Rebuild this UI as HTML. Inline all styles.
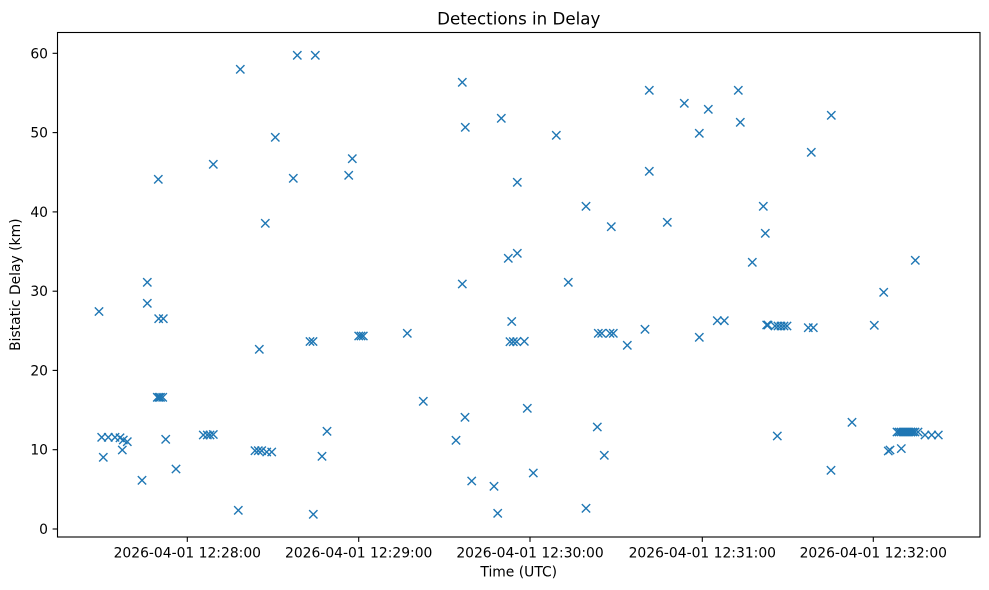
<!DOCTYPE html>
<html><head><meta charset="utf-8"><style>
html,body{margin:0;padding:0;background:#fff;}
svg{display:block;}
text{font-family:"DejaVu Sans","Liberation Sans",sans-serif;fill:#000;}
</style></head><body>
<svg width="989" height="590" viewBox="0 0 989 590" xmlns="http://www.w3.org/2000/svg" xmlns:xlink="http://www.w3.org/1999/xlink">
<defs><path id="m" d="M-4.17 -4.17L4.17 4.17M-4.17 4.17L4.17 -4.17" stroke="#1f77b4" stroke-width="1.39" fill="none"/></defs>
<rect width="989" height="590" fill="#fff"/>
<text x="518.75" y="24.3" font-size="16.67" text-anchor="middle">Detections in Delay</text>
<g fill="#1f77b4">
<use href="#m" x="99" y="311.5"/>
<use href="#m" x="101.7" y="437.3"/><use href="#m" x="108.3" y="437.3"/><use href="#m" x="115" y="437.3"/><use href="#m" x="120" y="437.8"/>
<use href="#m" x="123.3" y="440"/><use href="#m" x="127.3" y="441.7"/><use href="#m" x="122.3" y="450"/><use href="#m" x="103.3" y="457.3"/>
<use href="#m" x="142" y="480.3"/><use href="#m" x="147.3" y="282.3"/><use href="#m" x="147.3" y="303.3"/><use href="#m" x="158.3" y="179.3"/>
<use href="#m" x="158.7" y="318.7"/><use href="#m" x="163.3" y="318.7"/>
<use href="#m" x="157.3" y="397.3"/><use href="#m" x="159" y="397.3"/><use href="#m" x="160.5" y="397.3"/><use href="#m" x="162.7" y="397.3"/>
<use href="#m" x="165.7" y="439.3"/><use href="#m" x="176" y="469"/>
<use href="#m" x="203.3" y="435"/><use href="#m" x="207.3" y="435"/><use href="#m" x="210" y="435"/><use href="#m" x="213.3" y="434.5"/>
<use href="#m" x="213.3" y="164.3"/><use href="#m" x="238.3" y="510.3"/><use href="#m" x="240.3" y="69.3"/>
<use href="#m" x="255" y="450.7"/><use href="#m" x="258.3" y="450.7"/><use href="#m" x="261.7" y="450.7"/><use href="#m" x="266.7" y="452"/><use href="#m" x="271.7" y="452"/>
<use href="#m" x="259.3" y="349.3"/><use href="#m" x="265.3" y="223.3"/><use href="#m" x="275.3" y="137.3"/><use href="#m" x="293.3" y="178.3"/>
<use href="#m" x="297.3" y="55.3"/><use href="#m" x="310" y="341.5"/><use href="#m" x="313" y="341.5"/><use href="#m" x="313.3" y="514.3"/>
<use href="#m" x="315.3" y="55.3"/><use href="#m" x="322" y="456.3"/><use href="#m" x="327" y="431.3"/><use href="#m" x="348.7" y="175.3"/>
<use href="#m" x="352.3" y="158.7"/><use href="#m" x="358.7" y="336"/><use href="#m" x="361" y="336"/><use href="#m" x="363.3" y="336"/>
<use href="#m" x="407.3" y="333.3"/><use href="#m" x="423.3" y="401.3"/><use href="#m" x="456" y="440.3"/><use href="#m" x="462.3" y="82.3"/>
<use href="#m" x="462.3" y="284"/><use href="#m" x="465.3" y="127.3"/><use href="#m" x="465" y="417.3"/><use href="#m" x="471.7" y="481"/>
<use href="#m" x="494" y="486.3"/><use href="#m" x="497.7" y="513.3"/><use href="#m" x="501.3" y="118.3"/><use href="#m" x="508.3" y="258.3"/>
<use href="#m" x="511.7" y="321.5"/><use href="#m" x="510" y="341.7"/><use href="#m" x="513.3" y="341.7"/><use href="#m" x="516.7" y="341.7"/><use href="#m" x="524.3" y="341.3"/>
<use href="#m" x="517.3" y="253.3"/><use href="#m" x="517.3" y="182.3"/><use href="#m" x="527.3" y="408.3"/><use href="#m" x="533.3" y="473"/>
<use href="#m" x="556.3" y="135.3"/><use href="#m" x="568.3" y="282.3"/><use href="#m" x="586" y="206.3"/><use href="#m" x="586" y="508.3"/>
<use href="#m" x="597.3" y="427"/><use href="#m" x="598.3" y="333.3"/><use href="#m" x="601.7" y="333.3"/><use href="#m" x="610" y="333.3"/><use href="#m" x="613.3" y="333.3"/>
<use href="#m" x="604.3" y="455.3"/><use href="#m" x="611.3" y="226.7"/><use href="#m" x="627.3" y="345.3"/><use href="#m" x="645" y="329.3"/>
<use href="#m" x="649.3" y="90.3"/><use href="#m" x="649.3" y="171.3"/><use href="#m" x="667.3" y="222.3"/><use href="#m" x="684.3" y="103.3"/>
<use href="#m" x="699.3" y="133.3"/><use href="#m" x="699.3" y="337.3"/><use href="#m" x="708.3" y="109.3"/><use href="#m" x="717.3" y="320.7"/><use href="#m" x="724.3" y="320.7"/>
<use href="#m" x="738.3" y="90.3"/><use href="#m" x="740.3" y="122.3"/><use href="#m" x="752.3" y="262.3"/><use href="#m" x="763.3" y="206.3"/><use href="#m" x="765.3" y="233.3"/>
<use href="#m" x="766.7" y="325"/><use href="#m" x="768" y="325"/>
<use href="#m" x="775" y="326"/><use href="#m" x="778" y="326"/><use href="#m" x="781" y="326"/><use href="#m" x="784" y="326"/><use href="#m" x="787" y="326"/>
<use href="#m" x="777.3" y="436"/><use href="#m" x="808.3" y="327.7"/><use href="#m" x="813.3" y="327.7"/><use href="#m" x="811.3" y="152.3"/>
<use href="#m" x="831" y="470.3"/><use href="#m" x="831.3" y="115.3"/><use href="#m" x="852" y="422.3"/><use href="#m" x="874.3" y="325.3"/>
<use href="#m" x="883.7" y="292.3"/><use href="#m" x="888.3" y="451"/><use href="#m" x="890" y="450"/><use href="#m" x="901.3" y="448.6"/>
<use href="#m" x="897" y="432"/><use href="#m" x="899" y="432"/><use href="#m" x="901" y="432"/><use href="#m" x="903" y="432"/><use href="#m" x="905" y="432"/>
<use href="#m" x="907" y="432"/><use href="#m" x="909" y="432"/><use href="#m" x="911" y="432"/><use href="#m" x="913" y="432"/><use href="#m" x="915" y="432"/><use href="#m" x="918" y="432"/>
<use href="#m" x="925" y="435"/><use href="#m" x="931.7" y="435"/><use href="#m" x="938.3" y="435"/>
<use href="#m" x="915.3" y="260.3"/>
</g>
<rect x="57.5" y="32.5" width="922.5" height="504.5" fill="none" stroke="#000" stroke-width="1.1"/>
<g stroke="#000" stroke-width="1.1">
<line x1="52.6" y1="529" x2="57.5" y2="529"/>
<line x1="52.6" y1="449.7" x2="57.5" y2="449.7"/>
<line x1="52.6" y1="370.4" x2="57.5" y2="370.4"/>
<line x1="52.6" y1="291.2" x2="57.5" y2="291.2"/>
<line x1="52.6" y1="211.9" x2="57.5" y2="211.9"/>
<line x1="52.6" y1="132.6" x2="57.5" y2="132.6"/>
<line x1="52.6" y1="53.3" x2="57.5" y2="53.3"/>
<line x1="187.3" y1="537" x2="187.3" y2="541.9"/>
<line x1="358.7" y1="537" x2="358.7" y2="541.9"/>
<line x1="530" y1="537" x2="530" y2="541.9"/>
<line x1="702.3" y1="537" x2="702.3" y2="541.9"/>
<line x1="873.3" y1="537" x2="873.3" y2="541.9"/>
</g>
<g font-size="13.89" text-anchor="end">
<text x="48" y="534">0</text>
<text x="48" y="454.7">10</text>
<text x="48" y="375.4">20</text>
<text x="48" y="296.2">30</text>
<text x="48" y="216.9">40</text>
<text x="48" y="137.6">50</text>
<text x="48" y="58.3">60</text>
</g>
<g font-size="13.89" text-anchor="middle">
<text x="187.3" y="557.6">2026-04-01 12:28:00</text>
<text x="358.7" y="557.6">2026-04-01 12:29:00</text>
<text x="530" y="557.6">2026-04-01 12:30:00</text>
<text x="702.3" y="557.6">2026-04-01 12:31:00</text>
<text x="873.3" y="557.6">2026-04-01 12:32:00</text>
<text x="518.75" y="576.7">Time (UTC)</text>
<text transform="translate(20.2,284.7) rotate(-90)">Bistatic Delay (km)</text>
</g>
</svg>
</body></html>
